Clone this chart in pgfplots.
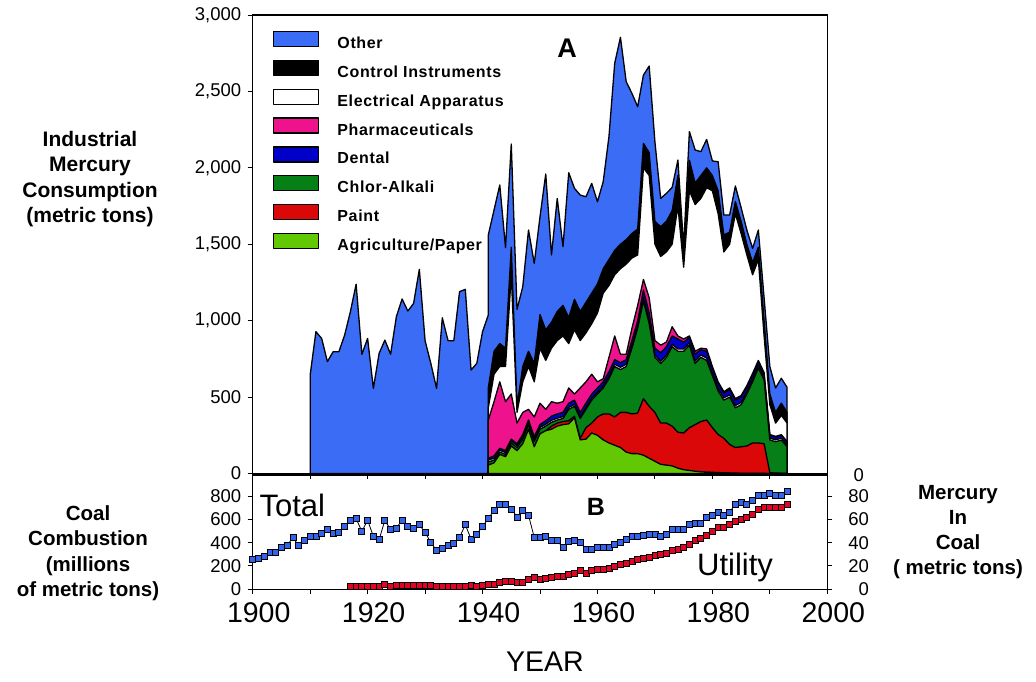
\documentclass[border=0pt]{standalone}
\usepackage{pgfplots}
\pgfplotsset{compat=1.18}
\usepackage{pgfplotstable}
\usepackage{fontspec}
\setmainfont{Liberation Sans}

\definecolor{cOther}{RGB}{58,108,246}
\definecolor{cPharma}{RGB}{238,18,140}
\definecolor{cDental}{RGB}{0,0,200}
\definecolor{cChlor}{RGB}{6,128,22}
\definecolor{cPaint}{RGB}{218,8,8}
\definecolor{cAgri}{RGB}{98,200,4}
\definecolor{cTotal}{RGB}{50,100,235}
\definecolor{cUtil}{RGB}{225,5,35}

% total industrial consumption (top of "Other")
\pgfplotstableread{
year total
1910 644
1911 928
1912 884
1913 732
1914 797
1915 797
1916 906
1917 1059
1918 1238
1919 780
1920 884
1921 557
1922 786
1923 873
1924 780
1925 1026
1926 1142
1927 1063
1928 1113
1929 1336
1930 869
1931 721
1932 557
1933 1019
1934 869
1935 869
1936 1190
1937 1205
1938 677
1939 721
1940 928
1941 1037
1941 1560
1942 1724
1943 1888
1944 1478
1945 2156
1946 1074
1947 1222
1948 1593
1949 1375
1950 1680
1951 1960
1952 1430
1953 1800
1954 1484
1955 1968
1956 1866
1957 1822
1958 1811
1959 1898
1960 1778
1961 1909
1962 2204
1963 2684
1964 2854
1965 2564
1966 2487
1967 2400
1968 2607
1969 2666
1970 2170
1971 1800
1972 1833
1973 1872
1974 2051
1975 1480
1976 2237
1977 2117
1978 2106
1979 2186
1980 2045
1981 2040
1982 1691
1983 1691
1984 1881
1985 1740
1986 1593
1987 1473
1988 1593
1989 1150
1990 700
1991 560
1992 623
1993 564
}\totaltab

% cumulative tops of the end-use layers
\pgfplotstableread{
year agri paint chlor lab dental pharma elec control
1941 55 55 75 88 100 350 430 560
1942 70 70 88 100 115 470 650 800
1943 125 125 140 152 165 600 700 850
1944 110 110 125 137 150 470 700 820
1945 180 180 200 212 225 520 1300 1480
1946 150 150 170 182 195 330 400 440
1947 195 195 225 238 255 400 600 700
1948 290 290 320 332 350 420 700 800
1949 175 175 210 222 240 370 600 720
1950 260 260 290 302 320 460 820 1040
1951 280 280 310 322 345 420 740 940
1952 290 310 335 348 375 470 820 990
1953 310 330 350 362 390 460 870 1060
1954 320 340 360 372 400 470 900 1100
1955 325 345 420 432 460 560 850 1020
1956 365 375 440 452 480 520 940 1140
1957 220 230 360 372 400 560 870 1060
1958 225 300 420 432 460 600 920 1120
1959 265 330 480 492 520 650 980 1180
1960 250 370 520 532 560 600 1050 1240
1961 220 390 560 572 600 620 1180 1340
1962 200 390 620 635 665 760 1230 1400
1963 185 370 700 715 745 900 1300 1460
1964 170 400 680 695 725 780 1340 1500
1965 140 400 700 715 745 780 1370 1530
1966 130 390 820 835 870 950 1410 1570
1967 130 395 950 965 1000 1100 1430 1600
1968 120 490 1130 1150 1200 1270 2000 2160
1969 100 440 980 1000 1050 1150 1950 2100
1970 80 400 760 775 820 870 1500 1650
1971 60 330 720 735 790 840 1420 1615
1972 55 330 760 775 830 860 1450 1650
1973 50 310 830 845 900 960 1500 1720
1974 35 270 800 815 880 900 1750 1950
1975 25 265 800 815 860 880 1350 1470
1976 20 300 840 855 890 900 1850 2050
1977 15 320 720 735 780 800 1760 1900
1978 12 340 760 775 810 820 1800 1950
1979 10 350 740 755 800 815 1870 2000
1980 8 300 640 655 690 700 1850 1950
1981 6 255 540 555 590 600 1700 1850
1982 5 230 480 495 525 535 1450 1560
1983 4 190 500 515 550 560 1500 1580
1984 3 170 430 445 480 490 1700 1780
1985 2 175 450 465 500 510 1570 1650
1986 2 180 520 535 565 575 1430 1500
1987 1 200 600 615 645 655 1300 1380
1988 1 200 690 705 730 740 1400 1480
1989 1 195 612 627 650 660 900 1000
1990 0 5 220 232 250 255 450 520
1991 0 3 208 220 238 243 330 400
1992 0 2 219 231 249 254 380 460
1993 0 1 175 187 205 210 330 400
}\layers

% coal combustion, total
\pgfplotstableread{
year coal
1900 253
1901 267
1902 281
1903 319
1904 319
1905 362
1906 376
1907 445
1908 373
1909 416
1910 454
1911 454
1912 482
1913 511
1914 477
1915 491
1916 540
1917 592
1918 606
1919 497
1920 592
1921 454
1922 425
1923 592
1924 511
1925 526
1926 592
1927 540
1928 526
1929 554
1930 488
1931 402
1932 333
1933 347
1934 376
1935 391
1936 445
1937 554
1938 431
1939 474
1940 540
1941 606
1942 678
1943 732
1944 732
1945 689
1946 620
1947 678
1948 635
1949 445
1950 448
1951 454
1952 416
1953 416
1954 359
1955 411
1956 416
1957 402
1958 345
1959 345
1960 359
1961 359
1962 359
1963 382
1964 402
1965 431
1966 454
1967 454
1968 462
1969 474
1970 474
1971 454
1972 474
1973 511
1974 511
1975 511
1976 554
1977 563
1978 569
1979 620
1980 632
1981 661
1982 635
1983 663
1984 727
1985 747
1986 732
1987 761
1988 804
1989 804
1990 819
1991 804
1992 804
1993 842
}\coaltab

% coal combustion, utility
\pgfplotstableread{
year util
1917 28
1918 28
1919 28
1920 28
1921 28
1922 28
1923 43
1924 28
1925 35
1926 35
1927 35
1928 35
1929 35
1930 35
1931 35
1932 28
1933 28
1934 28
1935 28
1936 28
1937 28
1938 35
1939 28
1940 35
1941 43
1942 43
1943 57
1944 72
1945 72
1946 57
1947 57
1948 89
1949 100
1950 86
1951 95
1952 103
1953 109
1954 109
1955 129
1956 138
1957 158
1958 138
1959 158
1960 172
1961 172
1962 181
1963 195
1964 210
1965 224
1966 238
1967 253
1968 267
1969 276
1970 287
1971 296
1972 310
1973 330
1974 345
1975 362
1976 382
1977 419
1978 434
1979 462
1980 497
1981 534
1982 534
1983 554
1984 583
1985 603
1986 620
1987 641
1988 684
1989 704
1990 704
1991 704
1992 704
1993 732
}\utiltab

\pgfplotsset{
  myaxis/.style={
    scale only axis, width=574.6pt, xmin=1900, xmax=2000,
    tick align=outside, major tick length=5pt,
    tick style={line width=1pt, black},
    axis line style={line width=1.5pt},
    ticklabel style={font=\fontsize{18.5}{18.5}\selectfont},
    /pgf/number format/assume math mode=true,
    /pgf/number format/1000 sep={,},
  },
  layer/.style={draw=black, line width=1.3pt, line join=round},
}

\begin{document}
\begin{tikzpicture}[x=1pt,y=1pt]
\useasboundingbox (0,0) rectangle (1036,-681);

% ---------------- Panel A ----------------
\begin{axis}[myaxis,
  at={(252.7pt,-473.5pt)}, anchor=south west, height=458.5pt,
  ymin=0, ymax=3000, ytick={0,500,...,3000},
  xtick={1900,1910,...,2000}, xticklabels={},
  xtick pos=bottom, ytick pos=left,
  yticklabel style={xshift=-3pt},
  legend cell align=left,
  legend style={at={(axis description cs:0.0353,0.9657)}, anchor=north west,
    draw=none, fill=none, inner sep=0pt, row sep=9.7pt,
    font=\fontsize{16}{18}\selectfont\bfseries\addfontfeatures{LetterSpace=4},
    nodes={inner xsep=0pt, inner ysep=0pt}},
  legend image code/.code={\draw[#1,draw=black,line width=1.2pt] (0pt,-3pt) rectangle (45pt,12pt); \path (63pt,0pt);},
]
\addplot[layer, fill=cOther] table[x=year,y=total]{\totaltab} \closedcycle;
\addlegendentry{Other}
\addplot[layer, fill=black] table[x=year,y=control]{\layers} \closedcycle;
\addlegendentry{Control Instruments}
\addplot[layer, fill=white] table[x=year,y=elec]{\layers} \closedcycle;
\addlegendentry{Electrical Apparatus}
\addplot[layer, fill=cPharma] table[x=year,y=pharma]{\layers} \closedcycle;
\addlegendentry{Pharmaceuticals}
\addplot[layer, fill=cDental] table[x=year,y=dental]{\layers} \closedcycle;
\addlegendentry{Dental}
\addplot[layer, fill=white, forget plot] table[x=year,y=lab]{\layers} \closedcycle;
\addplot[layer, fill=cChlor] table[x=year,y=chlor]{\layers} \closedcycle;
\addlegendentry{Chlor-Alkali}
\addplot[layer, fill=cPaint] table[x=year,y=paint]{\layers} \closedcycle;
\addlegendentry{Paint}
\addplot[layer, fill=cAgri] table[x=year,y=agri]{\layers} \closedcycle;
\addlegendentry{Agriculture/Paper}
\end{axis}

% ---------------- Panel B ----------------
\begin{axis}[myaxis,
  at={(252.7pt,-589.3pt)}, anchor=south west, height=114.3pt,
  ymin=0, ymax=980, ytick={0,200,...,800},
  xtick={1900,1910,...,2000},
  xticklabels={1900,,1920,,1940,,1960,,1980,,2000},
  xticklabel style={font=\fontsize{28.5}{28.5}\selectfont, xshift=6pt, yshift=-5pt},
  yticklabel style={xshift=-3pt},
  xtick pos=bottom, ytick pos=left,
]
\addplot[black, line width=0.8pt, mark=square*, mark size=3pt,
  mark options={fill=cTotal, draw=black, line width=0.8pt}]
  table[x=year,y=coal]{\coaltab};
\addplot[black, line width=0.8pt, mark=square*, mark size=3pt,
  mark options={fill=cUtil, draw=black, line width=0.8pt}]
  table[x=year,y=util]{\utiltab};
\end{axis}

\begin{axis}[myaxis,
  at={(252.7pt,-589.3pt)}, anchor=south west, height=114.3pt,
  axis x line=none, axis y line*=right,
  ymin=0, ymax=98, ytick={0,20,...,80},
  extra y ticks={98}, extra y tick labels={0},
  extra y tick style={major tick length=0pt},
  yticklabel style={text width=33pt, align=right},
]
\end{axis}

% ---------------- texts ----------------
\node[align=center, font=\fontsize{21}{25.5}\selectfont\bfseries] at (90,-179)
  {Industrial\\Mercury\\Consumption\\(metric tons)};
\node[align=center, font=\fontsize{20.5}{25.5}\selectfont\bfseries] at (88,-553)
  {Coal\\Combustion\\(millions\\of metric tons)};
\node[align=center, font=\fontsize{20.5}{25}\selectfont\bfseries] at (958,-532)
  {Mercury\\In\\Coal\\( metric tons)};
\node[font=\fontsize{28.5}{28.5}\selectfont] at (545,-662) {YEAR};
\node[font=\fontsize{27}{27}\selectfont\bfseries] at (567,-48) {A};
\node[font=\fontsize{25}{25}\selectfont\bfseries] at (596,-507) {B};
\node[anchor=west, font=\fontsize{31}{31}\selectfont] at (256,-505) {Total};
\node[font=\fontsize{31}{31}\selectfont] at (735,-567) {Utility};
\end{tikzpicture}
\end{document}
